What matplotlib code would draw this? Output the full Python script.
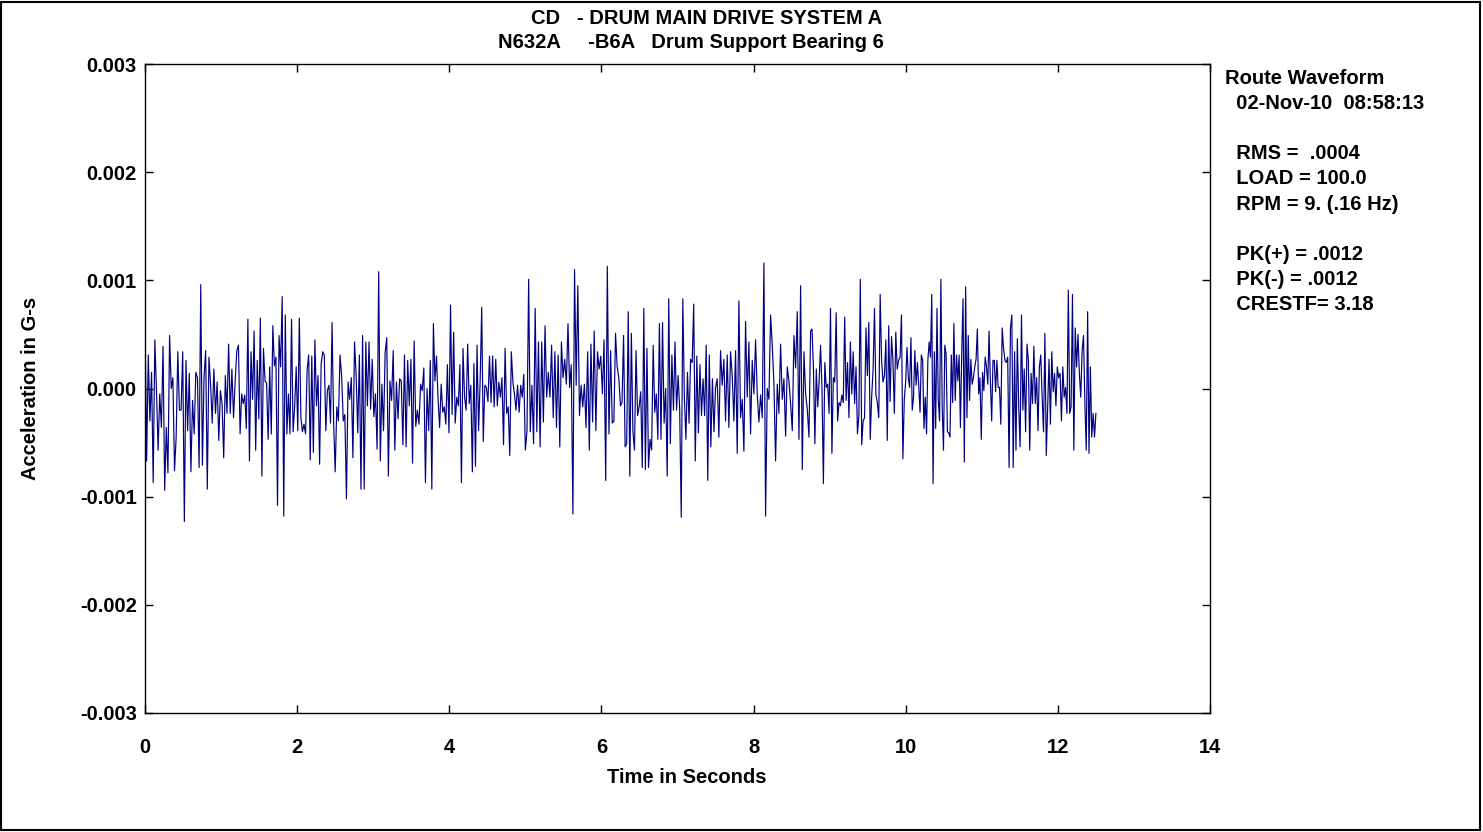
import matplotlib
matplotlib.use('Agg')
import matplotlib.pyplot as plt
import numpy as np
from matplotlib.patches import Rectangle

plt.rcParams['font.family'] = ['Liberation Sans', 'DejaVu Sans']
plt.rcParams['font.weight'] = 'bold'

# valores, en milesimas de G (cada tramo = 1.25 s)
seg01 = [0.58, -0.67, 0.31, -0.30, 0.15, -0.87, 0.45, -0.02, -0.57, -0.05, -0.36, 0.39, -0.94, -0.36,
         -0.78, 0.49, 0.00, 0.10, -0.76, -0.45, 0.34, -0.20, -0.20, 0.34, -1.23, 0.26, -0.39, 0.14, -0.77,
         -0.11, -0.42, 0.15, 0.10, -0.73, 0.96, -0.71, 0.10, 0.35, -0.93, 0.29, 0.04, -0.32, 0.18, -0.23,
         0.06, -0.48, -0.02, -0.14, -0.64, 0.12, -0.23, 0.41, -0.23, 0.18, -0.27, 0.07, 0.35, 0.40, -0.42]
seg02 = [-0.05, -0.14, -0.06, -0.37, 0.64, -0.67, 0.34, -0.10, 0.53, -0.57, 0.26, -0.28, 0.65, -0.81,
         0.37, 0.07, 0.05, -0.47, 0.20, -0.42, 0.58, 0.21, 0.29, -1.08, 0.49, 0.20, 0.85, -1.18, 0.68,
         -0.42, -0.05, -0.42, 0.64, -0.40, -0.17, 0.20, -0.39, 0.65, -0.27, -0.40, -0.33, -0.42, 0.17,
         0.31, -0.66, 0.30, -0.59, 0.45, -0.16, 0.12, -0.70, 0.23, 0.34, 0.31, -0.39, -0.02, 0.03, -0.32,
         0.61, -0.31, -0.77]
seg03 = [-0.17, -0.30, 0.31, 0.12, -0.30, -0.24, -1.02, 0.06, -0.10, 0.10, -0.64, 0.43, 0.12, -0.41,
         0.31, -0.93, 0.49, -0.93, 0.43, -0.16, 0.43, -0.19, 0.27, -0.26, -0.05, -0.56, 1.08, -0.67, 0.04,
         -0.39, 0.33, 0.47, -0.81, 0.07, -0.11, 0.35, -0.57, 0.06, -0.28, 0.09, 0.07, -0.52, 0.31, -0.54,
         0.26, -0.16, 0.27, -0.69, 0.44, -0.35, -0.20, -0.33, 0.04, -0.02, 0.19, -0.87, 0.00, -0.39, 0.26]
seg04 = [-0.93, 0.60, 0.07, 0.30, -0.10, -0.36, 0.04, -0.22, -0.17, -0.33, 0.22, -0.41, 0.77, -0.24,
         0.52, -0.32, -0.08, -0.16, 0.22, -0.87, 0.37, -0.08, -0.20, 0.41, -0.14, 0.03, -0.77, 0.23,
         -0.72, 0.40, -0.39, 0.07, 0.75, -0.49, 0.03, 0.01, -0.12, 0.30, -0.13, 0.30, -0.17, 0.27, -0.16,
         0.06, -0.08, 0.10, -0.52, 0.37, -0.23, -0.17, -0.62, 0.34, 0.06, -0.05, -0.20, 0.03, -0.22, 0.03,
         -0.08, 0.13, -0.57]
seg05 = [-0.39, 1.01, -0.40, 0.03, -0.51, 0.74, -0.40, 0.43, -0.54, 0.43, -0.31, 0.58, -0.08, 0.15,
         -0.08, 0.40, -0.27, 0.34, -0.36, 0.31, -0.54, 0.43, 0.10, 0.27, 0.04, 0.60, 0.01, 0.22, -1.16,
         1.10, 0.03, 0.95, -0.25, 0.03, -0.17, 0.04, -0.36, 0.34, -0.57, 0.41, -0.31, 0.53, -0.39, 0.34,
         0.18, 0.30, -0.05, 0.45, -0.85, 1.13, -0.42, 0.35, -0.32, -0.30, 0.51, 0.20, 0.10, -0.16]
seg06 = [-0.13, 0.49, -0.54, -0.51, 0.71, -0.81, 0.51, -0.40, -0.57, 0.35, -0.25, -0.17, -0.03, -0.73,
         0.74, -0.75, 0.37, -0.73, -0.47, -0.57, 0.40, -0.22, -0.05, -0.47, 0.60, -0.47, 0.61, -0.32,
         0.00, -0.81, 0.83, -0.51, 0.31, -0.20, 0.43, -0.20, 0.12, -0.19, -1.19, 0.83, -0.08, -0.47, 0.15,
         -0.32, 0.27, 0.24, 0.78, -0.67, 0.30, -0.41, 0.22, -0.25, 0.09, -0.25, 0.40, -0.85, 0.31, -0.54,
         0.09, -0.40, 0.01]
seg07 = [0.09, -0.45, 0.35, 0.03, 0.27, -0.30, 0.31, -0.36, 0.34, 0.12, -0.30, 0.35, -0.60, 0.81, -0.27,
         -0.10, -0.58, 0.62, -0.08, 0.43, -0.42, 0.26, -0.05, 0.45, -0.05, -0.31, -0.06, -0.27, 1.16,
         -1.18, 0.00, -0.10, 0.68, 0.40, 0.04, -0.67, 0.04, -0.23, 0.41, -0.10, 0.09, -0.44, 0.20, 0.07,
         -0.14, -0.39, 0.49, 0.19, 0.71, -0.47, 0.95, -0.75, 0.34, -0.05, -0.19, -0.45, 0.53]
seg08 = [0.55, 0.18, -0.51, 0.18, -0.17, 0.07, 0.40, 0.00, -0.88, 0.24, 0.01, 0.04, -0.23, 0.74, -0.60,
         0.10, 0.06, 0.70, -0.30, -0.13, -0.16, -0.06, -0.13, 0.66, -0.11, 0.24, -0.27, 0.43, -0.05, 0.34,
         -0.14, 0.20, -0.42, -0.25, 1.01, -0.52, -0.30, -0.27, 0.56, 0.12, 0.61, -0.47, -0.08, 0.17, 0.74,
         -0.06, -0.13, -0.27, 0.87, 0.26, 0.06, 0.12, 0.45, -0.48, 0.58, -0.12, 0.48, 0.26, -0.23, 0.52,
         0.18, 0.26, 0.29, 0.68, -0.65, -0.10, 0.07]
seg09 = [0.38, 0.10, 0.01, 0.47, -0.20, -0.08, 0.35, 0.03, 0.24, 0.03, -0.22, 0.31, 0.26, -0.37, -0.08,
         -0.42, 0.26, 0.43, 0.29, 0.87, -0.88, 0.34, -0.37, 0.74, -0.11, -0.30, 1.01, -0.17, -0.57, 0.40,
         0.32, -0.40, -0.41, -0.45, 0.31, -0.13, 0.60, -0.11, 0.31, 0.07, 0.31, -0.36, 0.32, 0.83, -0.68,
         0.94, -0.27, 0.49, -0.11, 0.27, 0.04, 0.10, 0.20, 0.27, 0.55, -0.05, 0.10, -0.47, 0.15, -0.02,
         0.29, 0.20, 0.04, 0.53, 0.07, -0.30, 0.26, 0.26, -0.03, 0.26, 0.01, 0.01, -0.33]
seg10 = [0.56, 0.37, 0.26, 0.24, 0.29, -0.73, 0.56, 0.68, -0.73, 0.34, -0.57, 0.46, -0.17, -0.54, 0.68,
         -0.20, 0.18, -0.40, 0.41, 0.26, -0.57, 0.14, -0.14, 0.39, -0.14, 0.10, -0.39, 0.20, 0.31, -0.08,
         -0.40, 0.51, -0.62, -0.17, 0.27, -0.33, 0.34, -0.03, 0.14, -0.16, 0.20, 0.10, 0.14, -0.30, 0.20,
         -0.08, 0.01, -0.23, 0.91, -0.23, -0.17, 0.87, -0.57, 0.56, 0.20, 0.50, 0.14, -0.08, 0.35, 0.49,
         -0.13, -0.57, 0.71, -0.60, 0.20, -0.45, -0.23, -0.45, -0.23]

segmentos = [seg01, seg02, seg03, seg04, seg05, seg06, seg07, seg08, seg09, seg10]
duracion_tramo = 1.25

ticks_x = [0, 2, 4, 6, 8, 10, 12, 14]
ticks_y = [-0.003, -0.002, -0.001, 0.0, 0.001, 0.002, 0.003]
etiquetas_y = ['-0.003', '-0.002', '-0.001', '0.000', '0.001', '0.002', '0.003']

titulo1 = 'CD   - DRUM MAIN DRIVE SYSTEM A'
titulo2 = 'N632A     -B6A   Drum Support Bearing 6'
info = ['Route Waveform', '  02-Nov-10  08:58:13', '', '  RMS =  .0004', '  LOAD = 100.0',
        '  RPM = 9. (.16 Hz)', '', '  PK(+) = .0012', '  PK(-) = .0012', '  CRESTF= 3.18']

# armar el eje de tiempo tramo por tramo
tiempo = []
valores = []
for i, seg in enumerate(segmentos):
    n = len(seg)
    if i == 0:
        tt = np.linspace(0, duracion_tramo, n)
    else:
        tt = np.linspace(i * duracion_tramo, (i + 1) * duracion_tramo, n + 1)[1:]
    tiempo.extend(tt)
    valores.extend(np.array(seg) * 1e-3)

fs = 14.5

fig = plt.figure(figsize=(14.83, 8.32), dpi=100, facecolor='white')
ax = fig.add_axes([145 / 1483, 1 - 713 / 832, (1210 - 145) / 1483, (713 - 64) / 832])

ax.plot(tiempo, valores, color='#000080', linewidth=0.85)

ax.set_xlim(0, 14)
ax.set_ylim(-0.003, 0.003)
ax.set_xticks(ticks_x)
ax.set_yticks(ticks_y)
ax.set_yticklabels(etiquetas_y)
ax.tick_params(direction='in', length=6, width=1, labelsize=fs, top=True, right=True)
ax.tick_params(axis='x', pad=18)
ax.tick_params(axis='y', pad=6)
for s in ax.spines.values():
    s.set_linewidth(1.0)

ax.set_xlabel('Time in Seconds', fontsize=fs, fontweight='bold')
ax.xaxis.set_label_coords(0.509, -0.084)
ax.set_ylabel('Acceleration in G-s', fontsize=fs, fontweight='bold', labelpad=29)

fig.text(707 / 1483, 1 - 18 / 832, titulo1, ha='center', va='center', fontsize=fs, fontweight='bold')
fig.text(691 / 1483, 1 - 43 / 832, titulo2, ha='center', va='center', fontsize=fs, fontweight='bold')

y0 = 78
for linea in info:
    fig.text(1225 / 1483, 1 - y0 / 832, linea, ha='left', va='center', fontsize=fs, fontweight='bold')
    y0 += 25.2

# marco exterior
fig.patches.append(Rectangle((0.001, 0.002), 0.997, 0.996, transform=fig.transFigure,
                             fill=False, edgecolor='black', linewidth=1.5))

fig.savefig('out.png', dpi=100, facecolor='white')
